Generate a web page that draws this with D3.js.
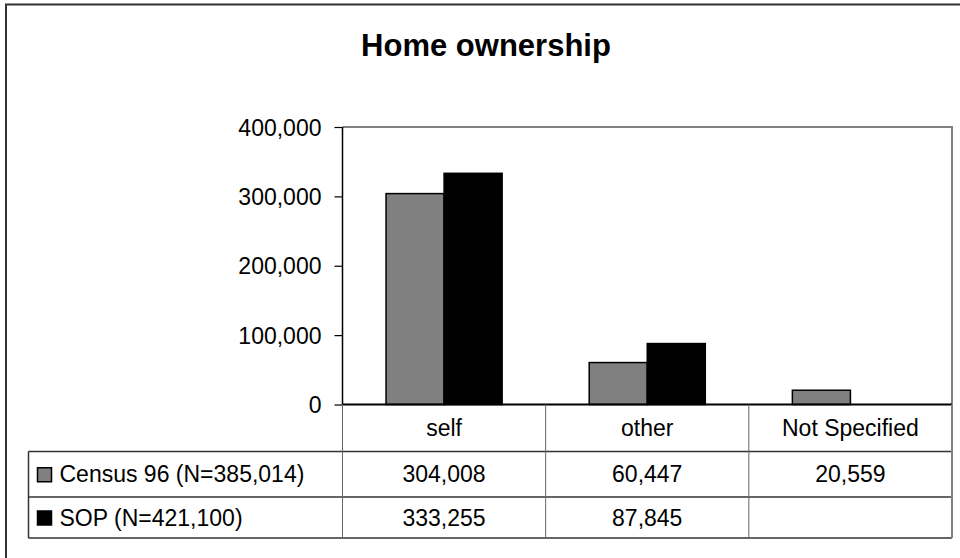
<!DOCTYPE html>
<html>
<head>
<meta charset="utf-8">
<script src="https://cdn.jsdelivr.net/npm/d3@7"></script>
<style>
	body { margin: 0; background: #fff; }
	svg text { font-family: "Liberation Sans", Arial, sans-serif; fill: #000; }
</style>
</head>
<body>
<svg id="chart" width="960" height="558"></svg>
<script>
// data
var categories = ["self", "other", "Not Specified"];
var seriesNames = ["Census 96 (N=385,014)", "SOP (N=421,100)"];
var census = [304008, 60447, 20559];
var sop = [333255, 87845, null];
var yTicks = [0, 100000, 200000, 300000, 400000];
var seriesColors = ["#808080", "#000000"];

(function(){
	var svg = d3.select("#chart");
	var series = [census, sop];

	var plot = {left: 342.5, right: 952, top: 127, bottom: 404.5};
	var table = {left: 28.5, rows: [404.5, 451.5, 497, 538]};
	var fs = "23px";

	// outer frame
	svg.append("rect")
		.attr("x", 6).attr("y", 4.5)
		.attr("width", 1000).attr("height", 1000)
		.style("fill", "none").style("stroke", "#333").style("stroke-width", 2);

	svg.append("text")
		.attr("x", 486).attr("y", 56)
		.attr("text-anchor", "middle")
		.style("font-size", "31px").style("font-weight", "bold")
		.text("Home ownership");

	var x = d3.scaleBand().domain(categories).range([plot.left, plot.right]);
	var xs = d3.scaleBand().domain([0, 1]).range([0, x.bandwidth()])
		.paddingInner(0).paddingOuter(0.75);
	var y = d3.scaleLinear().domain([0, 400000]).range([plot.bottom, plot.top]);

	// plot frame (top / right)
	svg.append("path")
		.attr("d", "M" + plot.left + "," + plot.top + "H" + plot.right + "V" + plot.bottom)
		.style("fill", "none").style("stroke", "#808080").style("stroke-width", 2);

	var yAxis = svg.append("g")
		.attr("transform", "translate(" + plot.left + ",0)")
		.call(d3.axisLeft(y).tickValues(yTicks).tickSize(8).tickPadding(13)
			.tickFormat(d3.format(",")));
	yAxis.select(".domain").remove();
	yAxis.selectAll("line").style("stroke", "#000").style("stroke-width", 1.2);
	yAxis.selectAll("text").style("font-size", fs).attr("dy", "0.35em");
	yAxis.append("line")
		.attr("y1", plot.top).attr("y2", plot.bottom)
		.style("stroke", "#000").style("stroke-width", 1.5);

	// bars
	series.forEach(function(vals, s){
		svg.selectAll(".bar" + s)
			.data(categories.map(function(c, i){ return {c: c, v: vals[i]}; })
				.filter(function(d){ return d.v != null; }))
			.enter()
			.append("rect")
			.attr("class", "bar" + s)
			.attr("x", function(d){ return x(d.c) + xs(s); })
			.attr("width", xs.bandwidth())
			.attr("y", function(d){ return y(d.v); })
			.attr("height", function(d){ return y(0) - y(d.v); })
			.style("fill", seriesColors[s])
			.style("stroke", "#000").style("stroke-width", 1.5);
	});

	// zero line
	svg.append("line")
		.attr("x1", plot.left).attr("x2", plot.right)
		.attr("y1", y(0)).attr("y2", y(0))
		.style("stroke", "#000").style("stroke-width", 2);

	// data table
	var r = table.rows;
	var fmt = d3.format(",");
	var tg = svg.append("g");

	tg.selectAll(".hrow")
		.data([r[1], r[2], r[3]])
		.enter().append("line")
		.attr("class", "hrow")
		.attr("x1", table.left).attr("x2", plot.right)
		.attr("y1", function(d){ return d; }).attr("y2", function(d){ return d; })
		.style("stroke", "#333").style("stroke-width", 1.5);
	tg.append("line").attr("x1", table.left).attr("x2", table.left).attr("y1", r[1]).attr("y2", r[3])
		.style("stroke", "#333").style("stroke-width", 1.5);
	tg.selectAll(".vcol")
		.data(categories.map(function(c){ return x(c); }).concat([plot.right]))
		.enter().append("line")
		.attr("class", "vcol")
		.attr("x1", function(d){ return d; }).attr("x2", function(d){ return d; })
		.attr("y1", r[0]).attr("y2", r[3])
		.style("stroke", function(d, i){ return i == 3 ? "#808080" : "#666"; })
		.style("stroke-width", function(d, i){ return i == 3 ? 2 : 1; });

	// category labels
	tg.selectAll(".cat")
		.data(categories).enter().append("text")
		.attr("class", "cat")
		.attr("x", function(d){ return x(d) + x.bandwidth() / 2; })
		.attr("y", (r[0] + r[1]) / 2)
		.attr("dy", "0.35em")
		.attr("text-anchor", "middle")
		.style("font-size", fs)
		.text(function(d){ return d; });

	var rowMid = [(r[1] + r[2]) / 2, (r[2] + r[3]) / 2];
	series.forEach(function(vals, s){
		tg.append("rect")
			.attr("x", table.left + 9).attr("y", rowMid[s] - 6.5)
			.attr("width", 14).attr("height", 14)
			.style("fill", seriesColors[s]).style("stroke", "#000").style("stroke-width", 1.5);
		tg.append("text")
			.attr("x", table.left + 31).attr("y", rowMid[s])
			.attr("dy", "0.35em")
			.style("font-size", fs)
			.text(seriesNames[s]);
		tg.selectAll(".val" + s)
			.data(vals).enter().append("text")
			.attr("class", "val" + s)
			.attr("x", function(d, i){ return x(categories[i]) + x.bandwidth() / 2; })
			.attr("y", rowMid[s])
			.attr("dy", "0.35em")
			.attr("text-anchor", "middle")
			.style("font-size", fs)
			.text(function(d){ return d == null ? "" : fmt(d); });
	});
})();
</script>
</body>
</html>
